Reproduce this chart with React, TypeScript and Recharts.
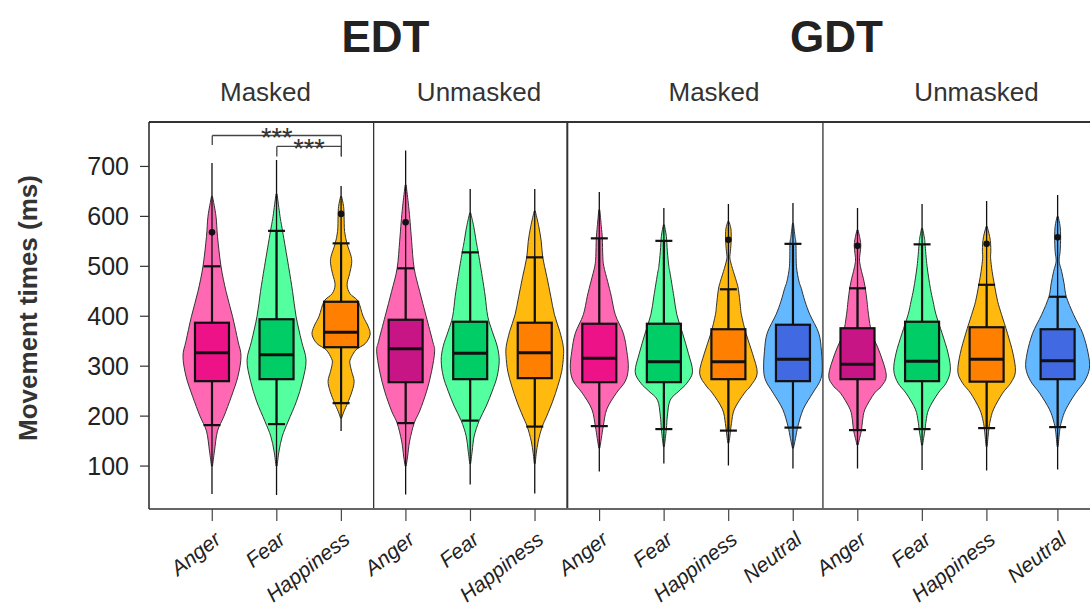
import React from "react";
import { ComposedChart, Bar, XAxis, YAxis, ReferenceLine } from "recharts";

const FONT = "'Liberation Sans', Arial, sans-serif";

// x positions of the 14 violins (EDT masked, EDT unmasked, GDT masked, GDT unmasked)
const POSITIONS = [1, 2, 3, 4, 5, 6, 7, 8, 9, 10, 11, 12, 13, 14.1];
const EMOTIONS = [
  "Anger", "Fear", "Happiness",
  "Anger", "Fear", "Happiness",
  "Anger", "Fear", "Happiness", "Neutral",
  "Anger", "Fear", "Happiness", "Neutral",
];
const MASKED = [true, true, true, false, false, false, true, true, true, true, false, false, false, false];

// movement times (ms)
const LINE_MIN = [44, 42, 170, 43, 63, 45, 89, 105, 101, 95, 95, 92, 91, 93];
const LINE_MAX = [707, 713, 661, 732, 655, 655, 649, 617, 625, 627, 617, 625, 631, 643];
const WHISKER_LOW = [182, 184, 226, 186, 191, 179, 180, 174, 171, 177, 172, 174, 176, 178];
const Q1 = [270, 274, 338, 268, 274, 276, 268, 268, 274, 270, 274, 270, 269, 274];
const MEDIAN = [327, 323, 368, 335, 326, 327, 316, 309, 309, 314, 304, 310, 314, 311];
const Q3 = [387, 394, 429, 393, 389, 387, 385, 385, 374, 383, 376, 389, 378, 374];
const WHISKER_HIGH = [500, 571, 546, 496, 528, 518, 556, 551, 454, 545, 456, 544, 463, 439];
const OUTLIER: (number | null)[] = [568, null, 605, 588, null, null, null, null, 553, null, 541, null, 545, 558];

// kernel density outlines: [ms, relative half-width]
const DENSITY: [number, number][][] = [
  [[640, 0.5], [600, 4], [560, 5.5], [500, 9], [450, 14], [400, 20.5], [350, 26], [320, 29], [280, 26], [240, 19.5], [200, 12], [170, 5.5], [130, 2.5], [100, 0.5]],
  [[645, 0.5], [600, 3.5], [571, 6], [500, 12], [450, 16], [400, 19.5], [350, 25], [312, 29.5], [270, 26], [230, 20], [190, 11.7], [160, 5.8], [130, 2.5], [100, 0.5]],
  [[640, 0.5], [620, 2.5], [600, 3], [570, 3.5], [545, 6], [520, 10], [505, 10.5], [485, 8.5], [463, 6], [445, 9], [430, 17], [400, 22], [380, 27], [363, 29], [345, 24], [333, 15], [315, 9.5], [306, 8.8], [290, 10.5], [270, 13], [250, 11], [226, 6.5], [210, 3], [196, 0.5]],
  [[663, 0.5], [620, 3], [588, 4.5], [550, 6], [496, 8.5], [450, 14], [400, 20.5], [350, 27], [330, 29], [290, 26], [250, 21], [210, 14], [186, 8.5], [150, 4], [120, 2], [100, 0.5]],
  [[607, 0.5], [580, 3.5], [550, 6], [528, 8], [480, 12], [440, 15], [400, 17.5], [370, 22], [340, 27], [312, 29], [280, 27], [250, 22], [220, 16], [191, 9], [160, 4], [130, 2], [105, 0.5]],
  [[611, 0.5], [580, 4], [550, 6.5], [518, 8], [480, 12], [440, 16], [403, 19.7], [370, 25], [340, 28.5], [320, 28.7], [290, 27], [260, 23], [230, 18], [200, 12], [179, 7.5], [150, 3.5], [125, 1.5], [105, 0.5]],
  [[613, 0.5], [580, 2], [556, 3], [520, 3.5], [500, 4.5], [470, 8.3], [440, 12], [403, 16], [366, 24], [330, 27.5], [296, 29], [270, 26], [246, 17], [214, 7.5], [180, 4], [155, 2], [136, 0.5]],
  [[583, 0.5], [560, 2.5], [530, 3.5], [500, 5], [483, 6.5], [440, 10], [403, 13], [366, 18.7], [326, 24.5], [289, 28.7], [266, 23], [250, 15], [232, 6.3], [200, 3.5], [174, 2.5], [139, 0.5]],
  [[590, 0.5], [575, 2.5], [553, 2.8], [530, 2], [516, 1.5], [496, 4], [470, 8], [454, 10], [420, 12], [403, 13], [366, 17.5], [326, 24], [286, 28.8], [260, 22], [246, 16], [214, 6], [185, 3], [160, 1.5], [146, 0.5]],
  [[586, 0.5], [560, 2], [545, 3], [500, 3.5], [470, 6], [456, 8.3], [430, 12], [403, 17], [366, 25.8], [330, 28.5], [292, 29.3], [270, 27], [246, 19.7], [214, 10.3], [180, 5], [155, 2.5], [136, 0.5]],
  [[573, 0.5], [555, 2.5], [541, 3.3], [525, 2.5], [510, 2], [490, 4], [476, 5.8], [456, 7.8], [430, 9.5], [403, 11], [366, 14.3], [326, 22.5], [282, 28.8], [260, 24], [246, 17], [214, 7.5], [190, 5], [172, 4], [155, 2], [142, 0.5]],
  [[576, 0.5], [555, 2.5], [544, 3], [500, 5], [456, 8.3], [430, 11], [403, 14], [366, 20], [326, 26], [292, 28.3], [266, 24], [246, 16], [214, 6.7], [190, 4], [174, 3], [155, 1.5], [142, 0.5]],
  [[580, 0.5], [560, 3], [545, 4], [530, 4.2], [516, 4], [490, 5.5], [463, 7.8], [430, 11], [403, 15], [366, 20.8], [326, 26.3], [289, 28.8], [266, 24], [246, 16], [214, 7], [190, 3.5], [170, 2], [139, 0.5]],
  [[600, 0.5], [580, 2.5], [558, 3], [530, 2.5], [510, 1.5], [490, 4], [465, 6.5], [439, 8.7], [403, 16], [366, 25], [326, 30.5], [296, 31.8], [270, 27], [246, 18], [214, 8.3], [190, 4], [170, 2], [139, 0.5]],
];

const Y_TICKS = [100, 200, 300, 400, 500, 600, 700];
const PANEL_BREAKS = [3.5, 6.5, 10.46];
const BRACKETS = [
  { from: 1, to: 3, level: 762, leftEnd: 743, rightEnd: 720, label: "***" },
  { from: 2, to: 3, level: 740, leftEnd: 720, rightEnd: 720, label: "***" },
];

const TASKS_LABELS = ["EDT", "GDT"];
const CONDITIONS = ["Masked", "Unmasked", "Masked", "Unmasked"];

const VIOLIN_FILL: Record<string, string> = {
  Anger: "#FF69B4",
  Fear: "#54FF9F",
  Happiness: "#FFB90F",
  Neutral: "#63B8FF",
};
const BOX_FILL: Record<string, string> = {
  Anger: "#EE1289",
  Fear: "#00CD66",
  Happiness: "#FF7F00",
  Neutral: "#4169E1",
};
const ANGER_UNMASKED_BOX = "#C71585";

const data = POSITIONS.map((pos, i) => ({
  pos,
  emotion: EMOTIONS[i],
  masked: MASKED[i],
  lineMin: LINE_MIN[i],
  lineMax: LINE_MAX[i],
  lo: WHISKER_LOW[i],
  q1: Q1[i],
  median: MEDIAN[i],
  q3: Q3[i],
  hi: WHISKER_HIGH[i],
  outlier: OUTLIER[i],
  density: DENSITY[i],
}));

// catmull-rom through the points, as cubic segments (no leading M)
function smoothSegments(pts: [number, number][]) {
  let d = "";
  for (let i = 0; i < pts.length - 1; i++) {
    const p0 = pts[Math.max(i - 1, 0)];
    const p1 = pts[i];
    const p2 = pts[i + 1];
    const p3 = pts[Math.min(i + 2, pts.length - 1)];
    const c1x = p1[0] + (p2[0] - p0[0]) / 6;
    const c1y = p1[1] + (p2[1] - p0[1]) / 6;
    const c2x = p2[0] - (p3[0] - p1[0]) / 6;
    const c2y = p2[1] - (p3[1] - p1[1]) / 6;
    d += ` C${c1x},${c1y} ${c2x},${c2y} ${p2[0]},${p2[1]}`;
  }
  return d;
}

function Violin(props: any) {
  const { x, y, width, height, payload } = props;
  if (!payload) return null;
  const cx = x + width / 2;
  const top = payload.lineMax;
  const bottom = payload.lineMin;
  const py = (v: number) => y + (height * (top - v)) / (top - bottom);
  const k = width / 60;

  const right: [number, number][] = payload.density.map(([v, w]: [number, number]) => [cx + w * k, py(v)]);
  const left: [number, number][] = payload.density
    .slice()
    .reverse()
    .map(([v, w]: [number, number]) => [cx - w * k, py(v)]);
  const d =
    `M${right[0][0]},${right[0][1]}` +
    smoothSegments(right) +
    ` L${left[0][0]},${left[0][1]}` +
    smoothSegments(left) +
    " Z";

  const boxFill =
    payload.emotion === "Anger" && !payload.masked ? ANGER_UNMASKED_BOX : BOX_FILL[payload.emotion];
  const boxHalf = 17 * k;
  const capHalf = 8.5 * k;

  return (
    <g>
      <path d={d} fill={VIOLIN_FILL[payload.emotion]} stroke="#333" strokeWidth={1} />
      <line x1={cx} x2={cx} y1={py(payload.lineMax)} y2={py(payload.lineMin)} stroke="#111" strokeWidth={1.3} />
      <line x1={cx} x2={cx} y1={py(payload.hi)} y2={py(payload.lo)} stroke="#111" strokeWidth={2.2} />
      <line x1={cx - capHalf} x2={cx + capHalf} y1={py(payload.hi)} y2={py(payload.hi)} stroke="#111" strokeWidth={2.2} />
      <line x1={cx - capHalf} x2={cx + capHalf} y1={py(payload.lo)} y2={py(payload.lo)} stroke="#111" strokeWidth={2.2} />
      <rect
        x={cx - boxHalf}
        y={py(payload.q3)}
        width={boxHalf * 2}
        height={py(payload.q1) - py(payload.q3)}
        fill={boxFill}
        stroke="#111"
        strokeWidth={2.2}
      />
      <line x1={cx - boxHalf} x2={cx + boxHalf} y1={py(payload.median)} y2={py(payload.median)} stroke="#111" strokeWidth={3} />
      {payload.outlier != null && <circle cx={cx} cy={py(payload.outlier)} r={3.3} fill="#111" />}
    </g>
  );
}

function EmotionTick(props: any) {
  const { x, y, payload } = props;
  const i = POSITIONS.indexOf(payload.value);
  if (i < 0) return null;
  return (
    <g transform={`translate(${x},${y})`}>
      <text
        x={10}
        y={19}
        textAnchor="end"
        transform="rotate(-38 10 19)"
        fontSize={21}
        fontStyle="italic"
        fill="#222"
        fontFamily={FONT}
      >
        {EMOTIONS[i]}
      </text>
    </g>
  );
}

function Stars(props: any) {
  const { viewBox, value } = props;
  if (!viewBox) return null;
  return (
    <text
      x={viewBox.x + viewBox.width / 2}
      y={viewBox.y + 12}
      textAnchor="middle"
      fontSize={27}
      fill="#333"
      fontFamily={FONT}
    >
      {value}
    </text>
  );
}

export default function App() {
  return (
    <div
      style={{
        position: "absolute",
        left: 0,
        top: 0,
        width: 1090,
        height: 608,
        overflow: "hidden",
        background: "#fff",
        fontFamily: FONT,
      }}
    >
      <ComposedChart width={1120} height={608} data={data} margin={{ top: 122, right: 4, bottom: 0, left: 0 }}>
        <XAxis
          type="number"
          dataKey="pos"
          domain={[0.02, 15]}
          ticks={POSITIONS}
          interval={0}
          height={99}
          tickSize={12}
          tickMargin={2}
          allowDataOverflow
          axisLine={{ stroke: "#666", strokeWidth: 2 }}
          tickLine={{ stroke: "#444", strokeWidth: 1.2 }}
          tick={<EmotionTick />}
        />
        <YAxis
          type="number"
          domain={[14, 789]}
          ticks={Y_TICKS}
          width={149}
          tickSize={9}
          tickMargin={11}
          allowDataOverflow
          axisLine={{ stroke: "#222", strokeWidth: 1.5 }}
          tickLine={{ stroke: "#333", strokeWidth: 1.2 }}
          tick={{ fontSize: 25, fill: "#222", fontFamily: FONT }}
        />
        <ReferenceLine y={789} stroke="#333" strokeWidth={2} />
        {PANEL_BREAKS.map((b, i) => (
          <ReferenceLine key={b} x={b} stroke="#333" strokeWidth={i === 1 ? 2 : 1.3} />
        ))}
        <Bar
          dataKey={(d: any) => [d.lineMin, d.lineMax]}
          barSize={60}
          shape={<Violin />}
          isAnimationActive={false}
        />
        {BRACKETS.map((b, i) => (
          <ReferenceLine
            key={`h${i}`}
            segment={[{ x: b.from, y: b.level }, { x: b.to, y: b.level }]}
            stroke="#444"
            strokeWidth={1.3}
            label={<Stars value={b.label} />}
          />
        ))}
        {BRACKETS.map((b, i) => (
          <ReferenceLine
            key={`l${i}`}
            segment={[{ x: b.from, y: b.level }, { x: b.from, y: b.leftEnd }]}
            stroke="#444"
            strokeWidth={1.3}
          />
        ))}
        {BRACKETS.map((b, i) => (
          <ReferenceLine
            key={`r${i}`}
            segment={[{ x: b.to, y: b.level }, { x: b.to, y: b.rightEnd }]}
            stroke="#444"
            strokeWidth={1.3}
          />
        ))}
      </ComposedChart>
      <svg
        width={1090}
        height={608}
        style={{ position: "absolute", left: 0, top: 0, pointerEvents: "none" }}
        fontFamily={FONT}
      >
        <text x={385.5} y={51.7} textAnchor="middle" fontSize={44} fontWeight="bold" fill="#222">
          {TASKS_LABELS[0]}
        </text>
        <text x={836.5} y={51.7} textAnchor="middle" fontSize={44} fontWeight="bold" fill="#222">
          {TASKS_LABELS[1]}
        </text>
        {CONDITIONS.map((c, i) => (
          <text key={i} x={[265.5, 479, 714, 976.5][i]} y={100.7} textAnchor="middle" fontSize={26} fill="#333">
            {c}
          </text>
        ))}
        <text
          x={37}
          y={308}
          textAnchor="middle"
          fontSize={26}
          fontWeight="bold"
          fill="#333"
          transform="rotate(-90 37 308)"
        >
          Movement times (ms)
        </text>
      </svg>
    </div>
  );
}
